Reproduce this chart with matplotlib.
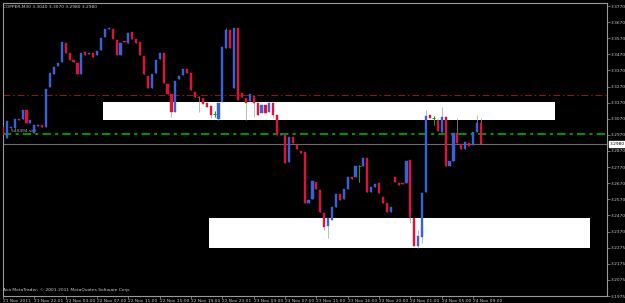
#!/usr/bin/env python3
"""
MetaTrader style COPPER M30 candlestick chart with two white zones.
"""

import numpy as np
import matplotlib
matplotlib.use("Agg")
import matplotlib.pyplot as plt
from matplotlib.patches import Rectangle

# --- data (price units) ---
opens = [3.3044, 3.2978, 3.3038, 3.3038, 3.3092, 3.3092, 3.3146, 3.3068, 3.3008, 3.3050,
         3.3056, 3.3044, 3.3284, 3.3362, 3.3410, 3.3434, 3.3548, 3.3488, 3.3446, 3.3428,
         3.3362, 3.3494, 3.3482, 3.3488, 3.3476, 3.3506, 3.3584, 3.3632, 3.3632, 3.3566,
         3.3476, 3.3560, 3.3548, 3.3614, 3.3572, 3.3554, 3.3470, 3.3350, 3.3278, 3.3368,
         3.3452, 3.3488, 3.3302, 3.3242, 3.3134, 3.3332, 3.3356, 3.3392, 3.3368, 3.3254,
         3.3224, 3.3218, 3.3188, 3.3170, 3.3122, 3.3092, 3.3194, 3.3518, 3.3626, 3.3278,
         3.3638, 3.3248, 3.3218, 3.3200, 3.3230, 3.3188, 3.3128, 3.3176, 3.3134, 3.3188,
         3.3116, 3.2996, 3.2996, 3.2834, 3.2984, 3.2936, 3.2900, 3.2894, 3.2588, 3.2612,
         3.2714, 3.2666, 3.2528, 3.2450, 3.2486, 3.2564, 3.2642, 3.2612, 3.2672, 3.2744,
         3.2744, 3.2810, 3.2810, 3.2858, 3.2654, 3.2684, 3.2708, 3.2624, 3.2588, 3.2534,
         3.2744, 3.2708, 3.2708, 3.2708, 3.2846, 3.2498, 3.2330, 3.2384, 3.2654, 3.3116,
         3.3098, 3.3086, 3.3014, 3.3104, 3.2810, 3.2840, 3.3008, 3.2942, 3.2912, 3.2948,
         3.2936, 3.3014, 3.3068]
closes = [3.2996, 3.3080, 3.3044, 3.3092, 3.3086, 3.3146, 3.3068, 3.3086, 3.3056, 3.3056,
          3.3044, 3.3272, 3.3368, 3.3404, 3.3428, 3.3554, 3.3488, 3.3446, 3.3434, 3.3362,
          3.3488, 3.3476, 3.3488, 3.3464, 3.3500, 3.3578, 3.3632, 3.3638, 3.3572, 3.3476,
          3.3548, 3.3554, 3.3608, 3.3572, 3.3548, 3.3476, 3.3362, 3.3278, 3.3362, 3.3446,
          3.3488, 3.3308, 3.3242, 3.3134, 3.3320, 3.3350, 3.3392, 3.3368, 3.3266, 3.3224,
          3.3218, 3.3182, 3.3164, 3.3116, 3.3122, 3.3188, 3.3524, 3.3626, 3.3518, 3.3638,
          3.3206, 3.3224, 3.3188, 3.3242, 3.3188, 3.3116, 3.3176, 3.3128, 3.3188, 3.3116,
          3.2996, 3.3002, 3.2828, 3.2984, 3.2948, 3.2912, 3.2888, 3.2588, 3.2606, 3.2720,
          3.2672, 3.2534, 3.2444, 3.2498, 3.2564, 3.2642, 3.2606, 3.2672, 3.2744, 3.2732,
          3.2810, 3.2810, 3.2858, 3.2654, 3.2684, 3.2702, 3.2648, 3.2588, 3.2534, 3.2564,
          3.2714, 3.2696, 3.2702, 3.2840, 3.2504, 3.2330, 3.2390, 3.2648, 3.3110, 3.3098,
          3.3098, 3.3020, 3.3104, 3.2810, 3.2840, 3.3008, 3.2948, 3.2912, 3.2954, 3.2930,
          3.3014, 3.3068, 3.2942]
highs = [3.3044, 3.3080, 3.3044, 3.3092, 3.3092, 3.3146, 3.3146, 3.3086, 3.3056, 3.3056,
         3.3056, 3.3272, 3.3368, 3.3404, 3.3428, 3.3554, 3.3548, 3.3488, 3.3446, 3.3428,
         3.3488, 3.3494, 3.3488, 3.3488, 3.3500, 3.3578, 3.3632, 3.3638, 3.3632, 3.3566,
         3.3548, 3.3560, 3.3608, 3.3614, 3.3572, 3.3554, 3.3470, 3.3350, 3.3362, 3.3446,
         3.3488, 3.3488, 3.3302, 3.3242, 3.3320, 3.3350, 3.3392, 3.3392, 3.3368, 3.3254,
         3.3230, 3.3218, 3.3188, 3.3170, 3.3140, 3.3188, 3.3524, 3.3638, 3.3626, 3.3638,
         3.3638, 3.3248, 3.3218, 3.3242, 3.3230, 3.3188, 3.3176, 3.3176, 3.3188, 3.3188,
         3.3116, 3.3002, 3.2996, 3.2984, 3.2984, 3.2936, 3.2900, 3.2894, 3.2606, 3.2720,
         3.2714, 3.2666, 3.2528, 3.2498, 3.2564, 3.2642, 3.2642, 3.2672, 3.2744, 3.2744,
         3.2810, 3.2816, 3.2858, 3.2858, 3.2684, 3.2702, 3.2708, 3.2624, 3.2588, 3.2564,
         3.2744, 3.2708, 3.2708, 3.2840, 3.2846, 3.2498, 3.2426, 3.2648, 3.3146, 3.3116,
         3.3110, 3.3086, 3.3164, 3.3104, 3.2840, 3.3008, 3.3098, 3.2942, 3.2954, 3.2948,
         3.3014, 3.3116, 3.3098]
lows = [3.2996, 3.2978, 3.3038, 3.3038, 3.3086, 3.3092, 3.3068, 3.3068, 3.3008, 3.3050,
        3.3044, 3.3044, 3.3284, 3.3362, 3.3410, 3.3434, 3.3488, 3.3446, 3.3434, 3.3362,
        3.3362, 3.3476, 3.3482, 3.3464, 3.3476, 3.3506, 3.3584, 3.3632, 3.3572, 3.3476,
        3.3476, 3.3554, 3.3548, 3.3572, 3.3548, 3.3476, 3.3362, 3.3278, 3.3278, 3.3368,
        3.3452, 3.3308, 3.3242, 3.3104, 3.3134, 3.3332, 3.3356, 3.3368, 3.3266, 3.3224,
        3.3134, 3.3182, 3.3164, 3.3098, 3.3104, 3.3086, 3.3194, 3.3518, 3.3518, 3.3278,
        3.3206, 3.3224, 3.3086, 3.3200, 3.3104, 3.3116, 3.3128, 3.3128, 3.3134, 3.3098,
        3.2996, 3.2996, 3.2828, 3.2834, 3.2948, 3.2912, 3.2888, 3.2588, 3.2588, 3.2612,
        3.2672, 3.2534, 3.2426, 3.2378, 3.2486, 3.2564, 3.2606, 3.2612, 3.2672, 3.2732,
        3.2744, 3.2714, 3.2810, 3.2654, 3.2654, 3.2684, 3.2648, 3.2588, 3.2534, 3.2534,
        3.2714, 3.2696, 3.2702, 3.2708, 3.2468, 3.2330, 3.2318, 3.2348, 3.2654, 3.3098,
        3.3056, 3.3020, 3.3014, 3.2810, 3.2810, 3.2840, 3.2948, 3.2912, 3.2912, 3.2930,
        3.2936, 3.3014, 3.2942]

x_labels = ["21 Nov 2011", "21 Nov 22:01", "22 Nov 03:00", "22 Nov 07:00", "22 Nov 11:00",
            "22 Nov 15:00", "22 Nov 19:00", "22 Nov 23:01", "23 Nov 03:00", "23 Nov 07:00",
            "23 Nov 11:00", "23 Nov 16:00", "23 Nov 20:00", "24 Nov 01:00", "24 Nov 05:00",
            "24 Nov 09:00"]
y_labels = ["3.3770", "3.3670", "3.3570", "3.3470", "3.3370", "3.3270", "3.3170", "3.3070",
            "3.2970", "3.2870", "3.2770", "3.2670", "3.2570", "3.2470", "3.2370", "3.2275",
            "3.2175", "3.2075", "3.1975"]

# horizontal levels and zones (price)
red_level = 3.3236
green_level = 3.3002
zone_top = (25.6, 141.0, 3.3086, 3.3194)      # x0, x1, y0, y1
zone_bottom = (52.7, 149.9, 3.2318, 3.2498)

BG = "black"
FG = "#c8c8c8"
BULL = "#3a62d8"
BEAR = "#dc143c"
DOJI = "#00b000"
WICK = "#a0a0a0"
FS = 3.2


def main():
    o = np.array(opens)
    c = np.array(closes)
    h = np.array(highs)
    l = np.array(lows)
    x = np.arange(len(o))

    fig = plt.figure(figsize=(6.25, 3.03), dpi=100, facecolor=BG)
    W, H = 625, 303
    ax = fig.add_axes([3 / W, 1 - 296 / H, 604 / W, 293 / H], facecolor=BG)

    ax.set_xlim(0.13, 154.2)
    ax.set_ylim(3.2030, 3.3788)

    # zones
    for x0, x1, y0, y1 in (zone_top, zone_bottom):
        ax.add_patch(Rectangle((x0, y0), x1 - x0, y1 - y0, facecolor="white",
                               edgecolor="none", zorder=1))

    # levels
    ax.axhline(red_level, color="#9a1414", lw=0.7, ls=(0, (7, 3, 1.5, 3)), zorder=2)
    ax.axhline(green_level, color="#009000", lw=1.5, ls=(0, (4, 2, 1.5, 2)), zorder=2)
    ax.axhline(c[-1], color="#6a6a6a", lw=0.8, zorder=2)
    ax.text(2.0, green_level + 0.0006, "540494 sell", color="#b0b0b0", fontsize=FS,
            va="bottom", ha="left", zorder=4)

    # candles
    ax.vlines(x, l, h, color=WICK, lw=0.5, zorder=3)
    doji = o == c
    up = (c > o) & ~doji
    dn = (c < o) & ~doji
    for mask, col in ((up, BULL), (dn, BEAR)):
        ax.bar(x[mask], np.abs(c - o)[mask], bottom=np.minimum(o, c)[mask], width=0.55,
               color=col, edgecolor=col, linewidth=0.3, zorder=4)
    ax.vlines(x[doji], l[doji], h[doji], color=DOJI, lw=0.7, zorder=4)
    ax.hlines(o[doji], x[doji] - 0.35, x[doji] + 0.35, color=DOJI, lw=0.7, zorder=4)

    # axes look
    for s in ax.spines.values():
        s.set_color("#9a9a9a")
        s.set_linewidth(0.8)

    ax.yaxis.tick_right()
    ax.set_yticks(np.linspace(3.3770, 3.2030, len(y_labels)))
    ax.set_yticklabels(y_labels)
    ax.tick_params(axis="y", colors="#9a9a9a", labelcolor=FG, labelsize=FS, length=2,
                   width=0.5, pad=1)

    ax.set_xticks(np.arange(0, 8 * len(x_labels), 8))
    ax.set_xticklabels(x_labels, ha="left")
    ax.tick_params(axis="x", colors="#9a9a9a", labelcolor=FG, labelsize=FS, length=2,
                   width=0.5, pad=0.5)

    # current price box
    ax.annotate("3.2980", xy=(1.0, c[-1]), xycoords=("axes fraction", "data"),
                xytext=(2, 0), textcoords="offset points", fontsize=FS, color="black",
                va="center", ha="left",
                bbox=dict(boxstyle="square,pad=0.15", fc="white", ec="white"),
                annotation_clip=False)

    fig.text(3 / W, 1 - 7 / H, "COPPER,M30 3.3040 3.3070 3.2980 3.2980", color=FG,
             fontsize=FS, va="center", ha="left")
    fig.text(3 / W, 1 - 290 / H, "Ava MetaTrader, \u00a9 2001-2011 MetaQuotes Software Corp.",
             color=FG, fontsize=FS, va="center", ha="left")

    fig.savefig("out.png", dpi=100, facecolor=BG)
    plt.close(fig)


if __name__ == "__main__":
    main()
